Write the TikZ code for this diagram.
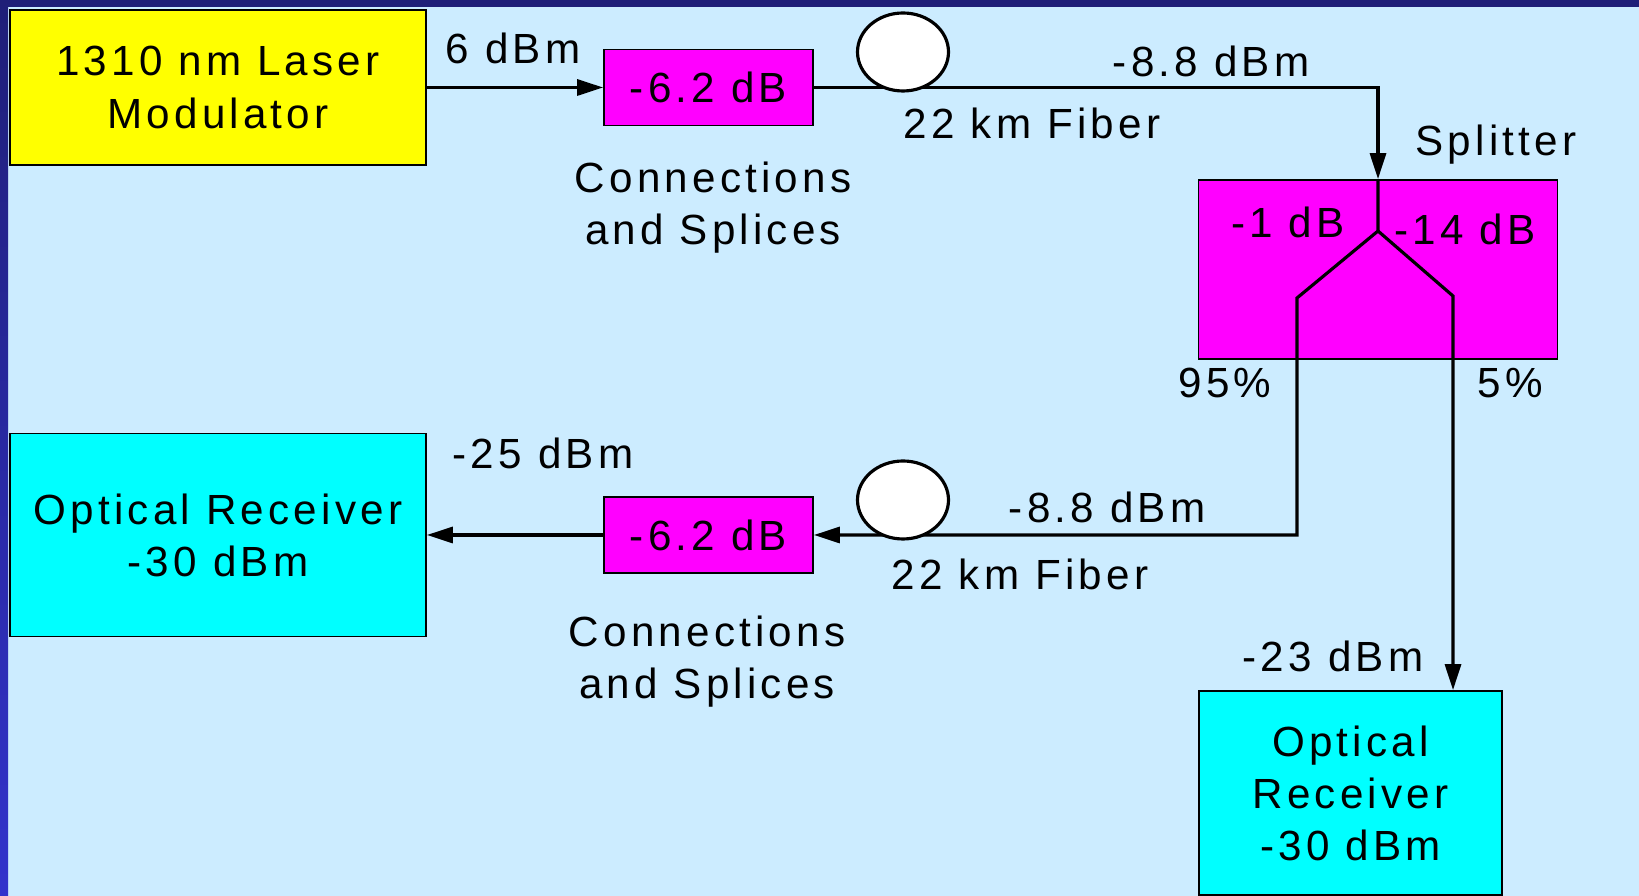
\documentclass[tikz,border=0pt]{standalone}
\usepackage{fontspec}
\setmainfont{Liberation Sans}[LetterSpace=10]
\usetikzlibrary{positioning}
\usetikzlibrary{shapes.geometric, arrows.meta}

\definecolor{bgblue}{HTML}{CCECFF}
\definecolor{navy}{HTML}{1F1F78}
\definecolor{edgeblue}{HTML}{3333CC}
\definecolor{laserfill}{HTML}{FFFF00}
\definecolor{lossfill}{HTML}{FF00FF}
\definecolor{rxfill}{HTML}{00FFFF}

\begin{document}
\begin{tikzpicture}[>={Triangle[length=2.6mm, width=1.6mm]}, line width=0.9pt,
    font=\fontsize{12}{14.8}\selectfont,
    box/.style={draw, line width=0.5pt, inner sep=0pt, align=center},
    lbl/.style={inner sep=0pt, text depth=0pt, align=center},
    fiber/.style={ellipse, draw, fill=white, inner sep=0pt, minimum width=0.91cm, minimum height=0.78cm}]

    % frame
    \useasboundingbox (0,0) rectangle (16.39,-8.96);
    \fill[bgblue] (0,0) rectangle (16.39,-8.96);
    \fill[navy] (0,0) rectangle (16.39,-0.07);
    \shade[top color=navy, bottom color=edgeblue] (0,0) rectangle (0.08,-8.96);

    % boxes
    \node[box, fill=laserfill, minimum width=4.16cm, minimum height=1.55cm] (laser) at (2.18,-0.875) {1310 nm Laser\\Modulator};
    \node[box, fill=lossfill, minimum width=2.09cm, minimum height=0.76cm] (loss1) at (7.085,-0.875) {-6.2 dB};
    \node[box, fill=lossfill, minimum width=3.59cm, minimum height=1.79cm] (split) at (13.78,-2.695) {};
    \node[box, fill=lossfill, minimum width=2.09cm, minimum height=0.76cm] (loss2) at (7.085,-5.35) {-6.2 dB};
    \node[box, fill=rxfill, minimum width=4.16cm, minimum height=2.03cm] (rx1) at (2.18,-5.35) {Optical Receiver\\-30 dBm};
    \node[box, fill=rxfill, minimum width=3.03cm, minimum height=2.04cm] (rx2) at (13.505,-7.93) {Optical\\Receiver\\-30 dBm};

    % splitter fork
    \coordinate (fork) at (13.78,-2.31);
    \coordinate (armL) at (12.97,-2.98);
    \coordinate (armR) at (14.53,-2.96);

    % fiber path
    \draw[->] (laser) -- (loss1);
    \draw[->] (loss1.east) -| (split.north);
    \node[fiber] (fibA) at (9.03,-0.52) {};
    \draw[->] (split.north) -- (fork) -- (armL) |- (loss2.east);
    \draw[->] (fork) -- (armR) -- (armR |- rx2.north);
    \node[fiber] (fibB) at (9.03,-5.00) {};
    \draw[->] (loss2) -- (rx1);

    % labels
    \node[lbl] (pwrIn) at (5.13,-0.48) {6 dBm};
    \node[lbl] (pwrA) at (12.11,-0.61) {-8.8 dBm};
    \node[lbl] (lenA) at (10.32,-1.23) {22 km Fiber};
    \node[lbl] (conA) at (7.13,-2.03) {Connections\\and Splices};
    \node[lbl] (splitName) at (14.96,-1.40) {Splitter};
    \node[lbl] (lossL) at (12.88,-2.22) {-1 dB};
    \node[lbl] (lossR) at (14.65,-2.29) {-14 dB};
    \node[lbl] (pctL) at (12.25,-3.83) {95\%};
    \node[lbl] (pctR) at (15.10,-3.83) {5\%};
    \node[lbl] (pwrRx1) at (5.43,-4.53) {-25 dBm};
    \node[lbl] (pwrB) at (11.07,-5.07) {-8.8 dBm};
    \node[lbl] (lenB) at (10.20,-5.74) {22 km Fiber};
    \node[lbl] (conB) at (7.07,-6.57) {Connections\\and Splices};
    \node[lbl] (pwrRx2) at (13.33,-6.56) {-23 dBm};
\end{tikzpicture}
\end{document}
